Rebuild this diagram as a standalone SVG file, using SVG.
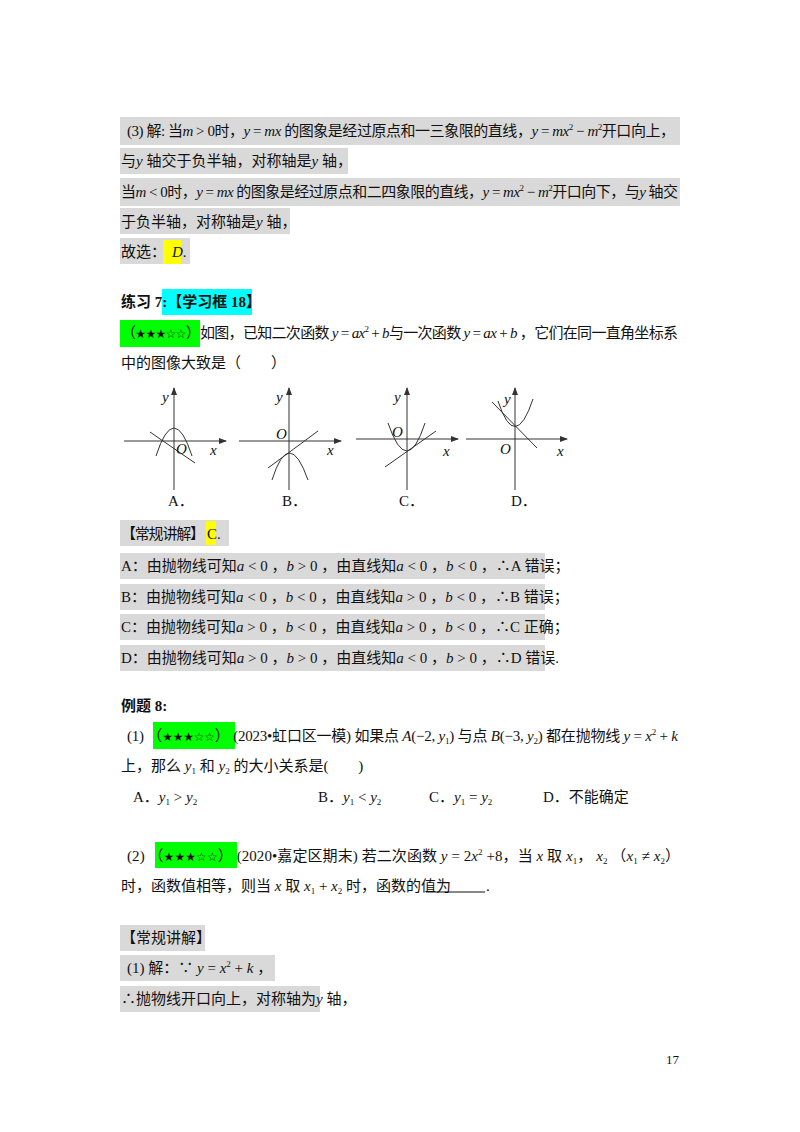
<svg xmlns="http://www.w3.org/2000/svg" width="800" height="1132" viewBox="0 0 800 1132">
<style>
text{font-family:"Liberation Serif","Noto Sans CJK SC",serif;font-size:15px;fill:#111}
.i{font-style:italic}
.s{font-size:9px}
.b{font-weight:bold}
.st{font-size:12px;font-family:"DejaVu Sans",sans-serif}
.g{fill:#d9d9d9}
.ax{stroke:#333;stroke-width:1;fill:none}
.cv{stroke:#333;stroke-width:1;fill:none}
</style>
<defs><marker id="ar" markerWidth="8" markerHeight="6" refX="7" refY="3" orient="auto"><path d="M0,0 L8,3 L0,6 Z" fill="#333"/></marker></defs>
<rect width="800" height="1132" fill="#fff"/>
<g id="solution3">
<rect class="g" x="120" y="117" width="560" height="28"/>
<rect class="g" x="120" y="148" width="228" height="26"/>
<rect class="g" x="120" y="178" width="560" height="28"/>
<rect class="g" x="120" y="208" width="170" height="26"/>
<rect class="g" x="120" y="238" width="70" height="26"/>
<rect x="163" y="240" width="18" height="24" fill="#ffff00"/>
<text x="127" y="136" textLength="548">(3) 解: 当<tspan class="i">m</tspan> &gt; 0时，<tspan class="i">y</tspan> = <tspan class="i">mx</tspan> 的图象是经过原点和一三象限的直线，<tspan class="i">y</tspan> = <tspan class="i">mx</tspan><tspan class="s" dy="-6">2</tspan><tspan dy="6"> − </tspan><tspan class="i">m</tspan><tspan class="s" dy="-6">2</tspan><tspan dy="6">开口向上，</tspan></text>
<text x="121" y="166">与<tspan class="i">y</tspan> 轴交于负半轴，对称轴是<tspan class="i">y</tspan> 轴，</text>
<text x="121" y="197" textLength="557">当<tspan class="i">m</tspan> &lt; 0时，<tspan class="i">y</tspan> = <tspan class="i">mx</tspan> 的图象是经过原点和二四象限的直线，<tspan class="i">y</tspan> = <tspan class="i">mx</tspan><tspan class="s" dy="-6">2</tspan><tspan dy="6"> − </tspan><tspan class="i">m</tspan><tspan class="s" dy="-6">2</tspan><tspan dy="6">开口向下，与<tspan class="i">y</tspan> 轴交</tspan></text>
<text x="121" y="227">于负半轴，对称轴是<tspan class="i">y</tspan> 轴，</text>
<text x="121" y="257">故选：<tspan class="i" dx="6">D</tspan>.</text>
</g>
<g id="exercise7">
<rect x="162" y="289" width="90" height="26" fill="#00ffff"/>
<text x="121" y="307" class="b">练习 7:【学习框 18】</text>
<rect x="120" y="320" width="80" height="27" fill="#00ff00"/>
<text x="121" y="338" textLength="557">（<tspan class="st">★★★☆☆</tspan>）如图，已知二次函数 <tspan class="i">y</tspan> = <tspan class="i">ax</tspan><tspan class="s" dy="-6">2</tspan><tspan dy="6"> + </tspan><tspan class="i">b</tspan>与一次函数 <tspan class="i">y</tspan> = <tspan class="i">ax</tspan> + <tspan class="i">b</tspan> ，它们在同一直角坐标系</text>
<text x="121" y="368">中的图像大致是（　　）</text>
</g>
<g id="graphs">
<g id="graphA">
<line class="ax" x1="174" y1="490" x2="174" y2="388" marker-end="url(#ar)"/>
<line class="ax" x1="124" y1="441" x2="226" y2="441" marker-end="url(#ar)"/>
<path class="cv" d="M156,456 Q174,400 192,456"/>
<line class="cv" x1="150" y1="432" x2="195" y2="463"/>
<text x="162" y="402" class="i">y</text><text x="176" y="454" class="i">O</text><text x="210" y="455" class="i">x</text>
<text x="168" y="506">A．</text>
</g>
<g id="graphB">
<line class="ax" x1="289" y1="490" x2="289" y2="388" marker-end="url(#ar)"/>
<line class="ax" x1="239" y1="441" x2="341" y2="441" marker-end="url(#ar)"/>
<path class="cv" d="M272,480 Q289,426 308,480"/>
<line class="cv" x1="268" y1="468" x2="318" y2="431"/>
<text x="276" y="402" class="i">y</text><text x="276" y="439" class="i">O</text><text x="327" y="455" class="i">x</text>
<text x="282" y="506">B．</text>
</g>
<g id="graphC">
<line class="ax" x1="407" y1="490" x2="407" y2="388" marker-end="url(#ar)"/>
<line class="ax" x1="356" y1="439" x2="458" y2="439" marker-end="url(#ar)"/>
<path class="cv" d="M388,423 Q407,479 425,423"/>
<line class="cv" x1="385" y1="467" x2="436" y2="431"/>
<text x="394" y="402" class="i">y</text><text x="392" y="437" class="i">O</text><text x="443" y="456" class="i">x</text>
<text x="399" y="506">C．</text>
</g>
<g id="graphD">
<line class="ax" x1="515" y1="490" x2="515" y2="388" marker-end="url(#ar)"/>
<line class="ax" x1="466" y1="439" x2="567" y2="439" marker-end="url(#ar)"/>
<path class="cv" d="M498,401 Q515,453 533,399"/>
<line class="cv" x1="492" y1="402" x2="537" y2="448"/>
<text x="504" y="404" class="i">y</text><text x="500" y="454" class="i">O</text><text x="557" y="456" class="i">x</text>
<text x="511" y="506">D．</text>
</g>
</g>
<g id="answer7">
<rect class="g" x="120" y="520" width="109" height="26"/>
<rect x="206" y="521" width="10" height="24" fill="#ffff00"/>
<text x="121" y="539" textLength="84">【常规讲解】</text>
<text x="207" y="539">C.</text>
<rect class="g" x="120" y="553" width="425" height="26"/>
<rect class="g" x="120" y="584" width="425" height="26"/>
<rect class="g" x="120" y="614" width="425" height="26"/>
<rect class="g" x="120" y="645" width="425" height="26"/>
<text x="121" y="571">A：由抛物线可知<tspan class="i">a</tspan> &lt; 0 ，<tspan class="i">b</tspan> &gt; 0 ，由直线知<tspan class="i">a</tspan> &lt; 0 ，<tspan class="i">b</tspan> &lt; 0 ，∴A 错误；</text>
<text x="121" y="602">B：由抛物线可知<tspan class="i">a</tspan> &lt; 0 ，<tspan class="i">b</tspan> &lt; 0 ，由直线知<tspan class="i">a</tspan> &gt; 0 ，<tspan class="i">b</tspan> &lt; 0 ，∴B 错误；</text>
<text x="121" y="632">C：由抛物线可知<tspan class="i">a</tspan> &gt; 0 ，<tspan class="i">b</tspan> &lt; 0 ，由直线知<tspan class="i">a</tspan> &gt; 0 ，<tspan class="i">b</tspan> &lt; 0 ，∴C 正确；</text>
<text x="121" y="663">D：由抛物线可知<tspan class="i">a</tspan> &gt; 0 ，<tspan class="i">b</tspan> &gt; 0 ，由直线知<tspan class="i">a</tspan> &lt; 0 ，<tspan class="i">b</tspan> &gt; 0 ，∴D 错误.</text>
</g>
<g id="example8">
<text x="121" y="711" class="b">例题 8:</text>
<rect x="153" y="722" width="82" height="27" fill="#00ff00"/>
<text x="127" y="741" textLength="551">(1) （<tspan class="st">★★★☆☆</tspan>） (2023•虹口区一模) 如果点 <tspan class="i">A</tspan>(−2, <tspan class="i">y</tspan><tspan class="s" dy="3">1</tspan><tspan dy="-3">) 与点 </tspan><tspan class="i">B</tspan>(−3, <tspan class="i">y</tspan><tspan class="s" dy="3">2</tspan><tspan dy="-3">) 都在抛物线 </tspan><tspan class="i">y</tspan> = <tspan class="i">x</tspan><tspan class="s" dy="-6">2</tspan><tspan dy="6"> + </tspan><tspan class="i">k</tspan></text>
<text x="121" y="771">上，那么 <tspan class="i">y</tspan><tspan class="s" dy="3">1</tspan><tspan dy="-3"> 和 </tspan><tspan class="i">y</tspan><tspan class="s" dy="3">2</tspan><tspan dy="-3"> 的大小关系是(　　)</tspan></text>
<text x="133" y="802">A．<tspan class="i">y</tspan><tspan class="s" dy="3">1</tspan><tspan dy="-3"> &gt; </tspan><tspan class="i">y</tspan><tspan class="s" dy="3">2</tspan></text>
<text x="318" y="802">B．<tspan class="i">y</tspan><tspan class="s" dy="3">1</tspan><tspan dy="-3"> &lt; </tspan><tspan class="i">y</tspan><tspan class="s" dy="3">2</tspan></text>
<text x="429" y="802">C．<tspan class="i">y</tspan><tspan class="s" dy="3">1</tspan><tspan dy="-3"> = </tspan><tspan class="i">y</tspan><tspan class="s" dy="3">2</tspan></text>
<text x="543" y="802">D．不能确定</text>
<rect x="155" y="842" width="82" height="26" fill="#00ff00"/>
<text x="127" y="861" textLength="553">(2)  （<tspan class="st">★★★☆☆</tspan>）  (2020•嘉定区期末) 若二次函数 <tspan class="i">y</tspan> = 2<tspan class="i">x</tspan><tspan class="s" dy="-6">2</tspan><tspan dy="6"> +8，当 </tspan><tspan class="i">x</tspan> 取 <tspan class="i">x</tspan><tspan class="s" dy="3">1</tspan><tspan dy="-3">， </tspan><tspan class="i">x</tspan><tspan class="s" dy="3">2</tspan><tspan dy="-3"> （</tspan><tspan class="i">x</tspan><tspan class="s" dy="3">1</tspan><tspan dy="-3"> ≠ </tspan><tspan class="i">x</tspan><tspan class="s" dy="3">2</tspan><tspan dy="-3">）</tspan></text>
<text x="121" y="891">时，函数值相等，则当 <tspan class="i">x</tspan> 取 <tspan class="i">x</tspan><tspan class="s" dy="3">1</tspan><tspan dy="-3"> + </tspan><tspan class="i">x</tspan><tspan class="s" dy="3">2</tspan><tspan dy="-3"> 时，函数的值为</tspan></text>
<line x1="426" y1="892" x2="485" y2="892" stroke="#111" stroke-width="1"/>
<text x="486" y="891">.</text>
</g>
<g id="answer8">
<rect class="g" x="120" y="925" width="85" height="26"/>
<rect class="g" x="120" y="955" width="155" height="26"/>
<rect class="g" x="120" y="986" width="200" height="26"/>
<text x="121" y="943">【常规讲解】</text>
<text x="127" y="973">(1) 解：∵ <tspan class="i">y</tspan> = <tspan class="i">x</tspan><tspan class="s" dy="-6">2</tspan><tspan dy="6"> + </tspan><tspan class="i">k</tspan> ，</text>
<text x="121" y="1004">∴抛物线开口向上，对称轴为<tspan class="i">y</tspan> 轴，</text>
</g>
<text x="666" y="1064" style="font-size:13px">17</text>
</svg>
